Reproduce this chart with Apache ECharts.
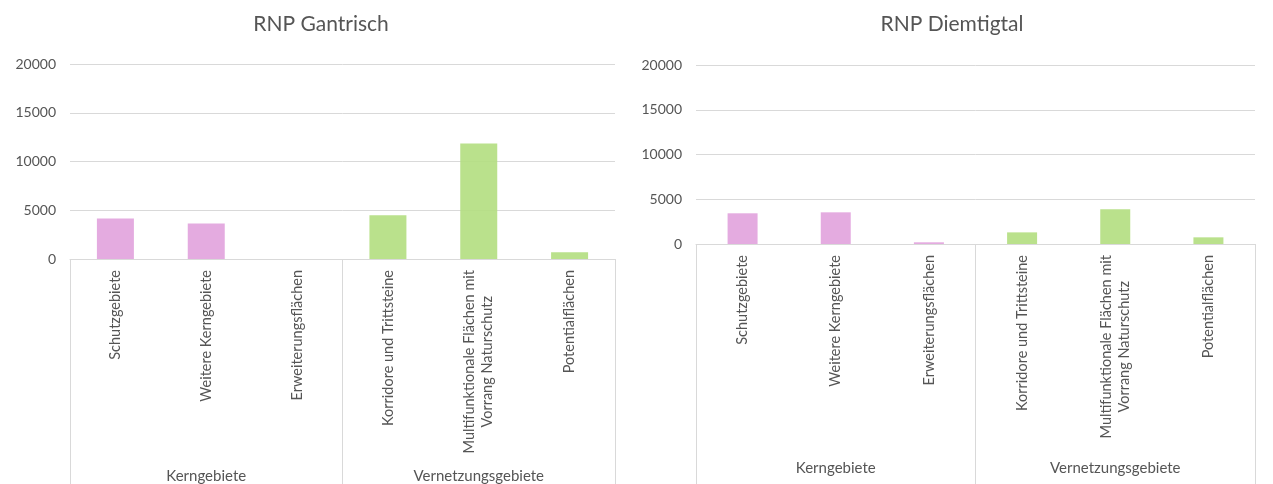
<!DOCTYPE html>
<html>
<head>
<meta charset="utf-8">
<script src="https://cdn.jsdelivr.net/npm/echarts@6/dist/echarts.min.js"></script>
<style>
  html, body { margin: 0; padding: 0; background: #fff; }
  #chart { width: 1273px; height: 484px; }
</style>
</head>
<body>
<div id="chart"></div>
<script>
// Flächen je Kategorie (ha)
const categories = [
  "Schutzgebiete",
  "Weitere Kerngebiete",
  "Erweiterungsflächen",
  "Korridore und Trittsteine",
  "Multifunktionale Flächen mit\nVorrang Naturschutz",
  "Potentialflächen",
];
const groups = ["Kerngebiete", "Vernetzungsgebiete"];
const gantrisch = [4150, 3640, 0, 4490, 11840, 680];
const diemtigtal = [3430, 3540, 190, 1300, 3870, 745];
const yTicks = { min: 0, max: 20000, interval: 5000 };

const PINK = "#e2a4dd";
const GREEN = "#b4de82";
const TEXT = "#555555";
const LINE = "#d9d9d9";
const FONT = "Lato";

// erste 3 Kategorien = Kerngebiete (rosa), Rest grün
const barColor = (p) => (p.dataIndex < 3 ? PINK : GREEN);

const catLabel = (v) =>
  v
    .split("\n")
    .map((s) => "{c|" + s + "}")
    .join("\n");

function xAxes(gridIndex, groupMargin) {
  return [
    {
      type: "category",
      gridIndex: gridIndex,
      data: categories,
      axisLine: { lineStyle: { color: LINE } },
      axisTick: { show: false },
      axisLabel: {
        interval: 0,
        rotate: 90,
        margin: 11,
        color: TEXT,
        fontSize: 14.5,
        fontFamily: FONT,
        formatter: catLabel,
        rich: { c: { align: "center", fontSize: 14.5, fontFamily: FONT, color: TEXT, lineHeight: 18 } },
      },
    },
    {
      type: "category",
      gridIndex: gridIndex,
      data: groups,
      position: "bottom",
      axisLine: { show: false },
      axisTick: { show: true, length: 240, lineStyle: { color: LINE } },
      axisLabel: { margin: groupMargin, color: TEXT, fontSize: 15, fontFamily: FONT },
    },
  ];
}

function yAxis(gridIndex) {
  return {
    type: "value",
    gridIndex: gridIndex,
    min: yTicks.min,
    max: yTicks.max,
    interval: yTicks.interval,
    axisLine: { show: false },
    axisTick: { show: false },
    splitLine: { lineStyle: { color: LINE } },
    axisLabel: {
      margin: 14,
      color: TEXT,
      fontSize: 14,
      fontFamily: FONT,
      formatter: (v) => String(v),
    },
  };
}

const chart = echarts.init(document.getElementById("chart"));
chart.setOption({
  animation: false,
  backgroundColor: "#fff",
  textStyle: { fontFamily: FONT },
  title: [
    {
      text: "RNP Gantrisch",
      left: 321,
      top: 14,
      textAlign: "center",
      padding: 0,
      textStyle: { fontSize: 21, fontWeight: "normal", color: TEXT, fontFamily: FONT },
    },
    {
      text: "RNP Diemtigtal",
      left: 952,
      top: 14,
      textAlign: "center",
      padding: 0,
      textStyle: { fontSize: 21, fontWeight: "normal", color: TEXT, fontFamily: FONT },
    },
  ],
  grid: [
    { left: 70, right: 658, top: 64, bottom: 224 },
    { left: 696, right: 18, top: 65, bottom: 240 },
  ],
  xAxis: [...xAxes(0, 210), ...xAxes(1, 217)],
  yAxis: [yAxis(0), yAxis(1)],
  series: [
    {
      type: "bar",
      xAxisIndex: 0,
      yAxisIndex: 0,
      barWidth: 37,
      data: gantrisch,
      itemStyle: { color: barColor, opacity: 0.92 },
    },
    {
      type: "bar",
      xAxisIndex: 2,
      yAxisIndex: 1,
      barWidth: 30,
      data: diemtigtal,
      itemStyle: { color: barColor, opacity: 0.92 },
    },
  ],
});
</script>
</body>
</html>
